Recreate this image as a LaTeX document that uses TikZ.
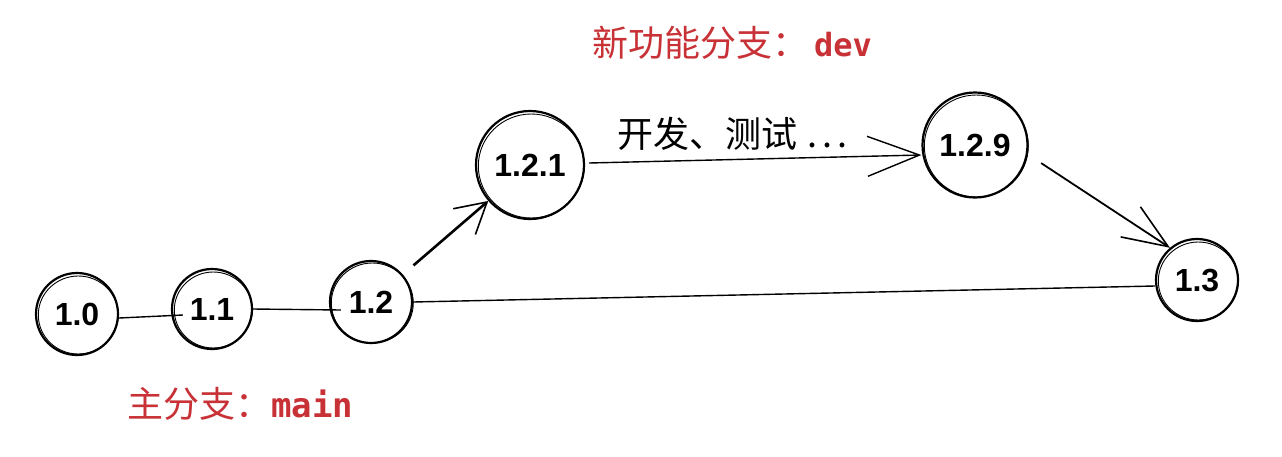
\documentclass[tikz,border=0pt]{standalone}
\usepackage{fontspec}
\setmainfont{Liberation Sans}
\newfontfamily\cjk{Noto Sans CJK SC}
\newfontfamily\monof{DejaVu Sans Mono}
\usetikzlibrary{arrows.meta}
\definecolor{brred}{RGB}{200,50,55}
\tikzset{
  vnode/.style={circle, draw, line width=2.2pt, inner sep=0pt,
    font=\fontsize{32}{32}\selectfont\bfseries},
  sketch/.style={line width=0.9pt},
  conn/.style={line width=1.4pt},
  tipsmall/.style={-{Straight Barb[length=30pt,width=34pt,line width=1.6pt]}},
  tipbig/.style={-{Straight Barb[length=52pt,width=40pt,line width=1.4pt]}},
  tipmid/.style={-{Straight Barb[length=45pt,width=36pt,line width=1.6pt]}},
  redlabel/.style={text=brred, anchor=west, inner sep=0pt},
}
\begin{document}
\begin{tikzpicture}[x=1pt,y=-1pt]
\useasboundingbox[fill=white] (0,0) rectangle (1282,456);

% nodes
\node[vnode, minimum size=82pt]  (n10)  at (77,314)   {1.0};
\node[vnode, minimum size=80pt]  (n11)  at (212,309)  {1.1};
\node[vnode, minimum size=82pt]  (n12)  at (371,302)  {1.2};
\node[vnode, minimum size=108pt] (n121) at (530,165)  {1.2.1};
\node[vnode, minimum size=105pt] (n129) at (975,145)  {1.2.9};
\node[vnode, minimum size=82pt]  (n13)  at (1197,280) {1.3};

% sketchy second strokes
\foreach \n/\r in {n10/40, n11/39, n12/41, n121/53, n129/52, n13/40}
  \draw[sketch] ([xshift=1.3pt,yshift=-1pt]\n.center) ellipse [x radius=\r pt, y radius={\r pt - 1pt}];

% labels
\node[inner sep=0pt, anchor=west, font=\fontsize{36}{36}\selectfont] (lbl) at (617,134)
  {\cjk 开发、测试 \kern2pt.\kern5pt.\kern5pt.};
\node[redlabel] (ldev) at (592,43)
  {\fontsize{36}{36}\selectfont\cjk 新功能分支：\kern6pt\fontsize{32}{32}\selectfont\monof\bfseries dev};
\node[redlabel] (lmain) at (127,404)
  {\fontsize{36}{36}\selectfont\cjk 主分支：\fontsize{34}{34}\selectfont\monof\bfseries main};

% connectors
\draw[conn] ([yshift=-4pt]n10.east) -- ([xshift=12pt,yshift=-6pt]n11.west);
\draw[conn] (n11.east) -- ([xshift=12pt,yshift=-8pt]n12.west);
\draw[conn] (n12.east) -- ([yshift=-6pt]n13.west);
\draw[conn, line width=2.6pt, tipsmall, shorten <=14pt] (n12) -- (n121);
\draw[conn, tipbig] ([xshift=4pt,yshift=2pt]n121.east) -- ([yshift=-10pt]n129.west);
\draw[conn, line width=1.8pt, tipmid, shorten <=16pt] (n129.-10) -- (n13.130);
\end{tikzpicture}
\end{document}
